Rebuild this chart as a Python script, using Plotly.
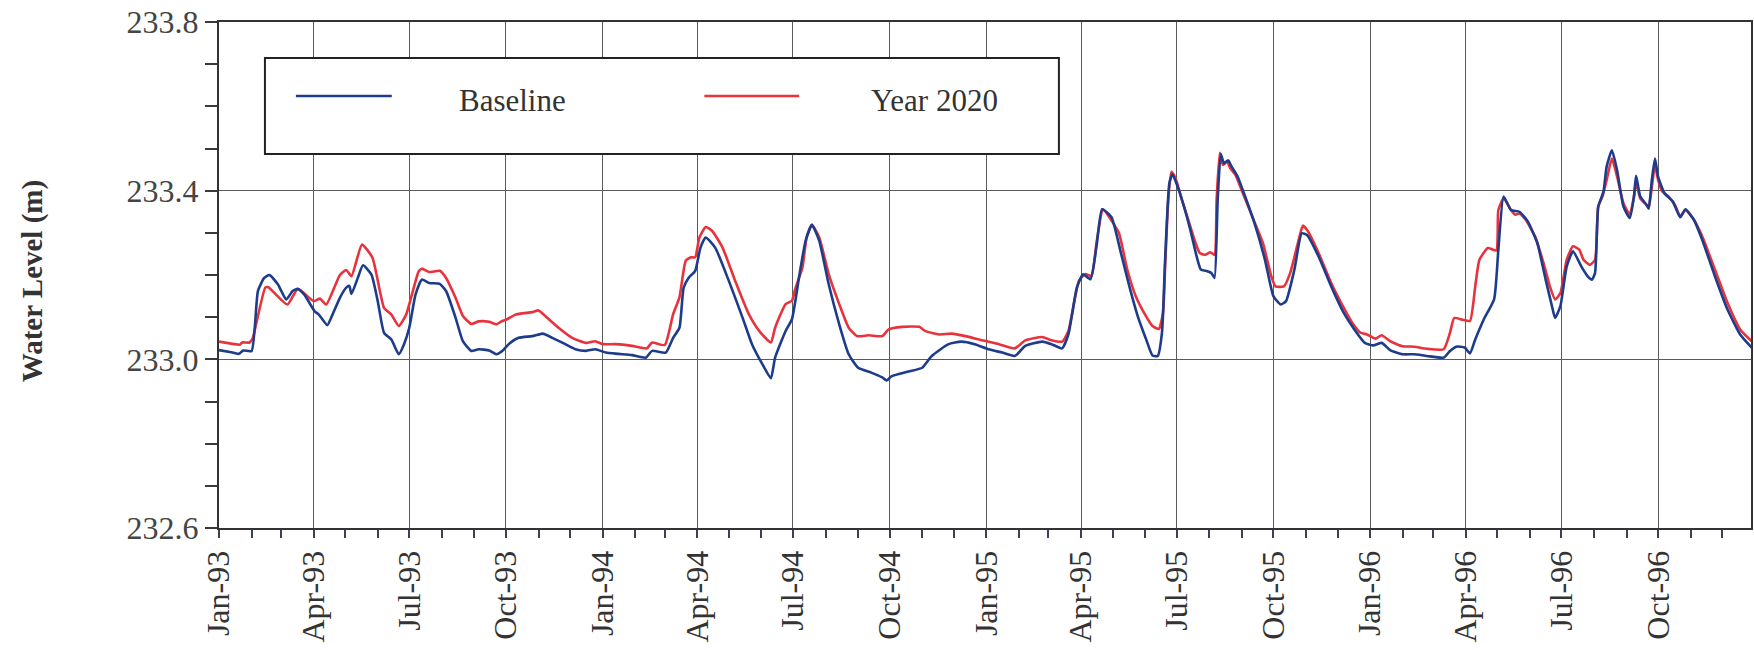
import plotly.graph_objects as go

# Daily water level series (m), sampled at the turning points of each hydrograph
baseline_dates = [
    "1993-01-01", "1993-01-14", "1993-01-20", "1993-01-24", "1993-02-01", "1993-02-07", "1993-02-13",
    "1993-02-18", "1993-02-26", "1993-03-06", "1993-03-12", "1993-03-17", "1993-03-23", "1993-04-02",
    "1993-04-06", "1993-04-14", "1993-04-19", "1993-04-26", "1993-05-02", "1993-05-05", "1993-05-07",
    "1993-05-13", "1993-05-18", "1993-05-26", "1993-06-01", "1993-06-07", "1993-06-14", "1993-06-21",
    "1993-06-26", "1993-07-01", "1993-07-07", "1993-07-13", "1993-07-20", "1993-07-30", "1993-08-05",
    "1993-08-14", "1993-08-21", "1993-08-29", "1993-09-05", "1993-09-15", "1993-09-22", "1993-09-28",
    "1993-10-04", "1993-10-13", "1993-10-26", "1993-11-05", "1993-11-14", "1993-11-24", "1993-12-06",
    "1993-12-16", "1993-12-25", "1994-01-04", "1994-01-16", "1994-01-29", "1994-02-11", "1994-02-17",
    "1994-03-02", "1994-03-09", "1994-03-15", "1994-03-19", "1994-03-24", "1994-03-30", "1994-04-04",
    "1994-04-09", "1994-04-18", "1994-05-01", "1994-05-14", "1994-05-23", "1994-06-02", "1994-06-10",
    "1994-06-14", "1994-06-24", "1994-06-30", "1994-07-07", "1994-07-13", "1994-07-19", "1994-07-26",
    "1994-08-04", "1994-08-14", "1994-08-23", "1994-09-01", "1994-09-14", "1994-09-24", "1994-09-28",
    "1994-10-03", "1994-10-19", "1994-11-01", "1994-11-10", "1994-11-26", "1994-12-08", "1994-12-21",
    "1995-01-03", "1995-01-16", "1995-01-28", "1995-02-07", "1995-02-23", "1995-03-04", "1995-03-14",
    "1995-03-20", "1995-03-28", "1995-04-03", "1995-04-10", "1995-04-16", "1995-04-21", "1995-04-30",
    "1995-05-09", "1995-05-17", "1995-05-25", "1995-06-02", "1995-06-08", "1995-06-13", "1995-06-17",
    "1995-06-20", "1995-06-24", "1995-06-27", "1995-07-02", "1995-07-08", "1995-07-14", "1995-07-20",
    "1995-07-24", "1995-07-30", "1995-08-03", "1995-08-06", "1995-08-09", "1995-08-12", "1995-08-15",
    "1995-08-19", "1995-08-22", "1995-08-28", "1995-09-03", "1995-09-13", "1995-09-23", "1995-10-01",
    "1995-10-08", "1995-10-13", "1995-10-21", "1995-10-28", "1995-11-02", "1995-11-13", "1995-11-25",
    "1995-12-07", "1995-12-17", "1995-12-27", "1996-01-04", "1996-01-12", "1996-01-20", "1996-02-01",
    "1996-02-12", "1996-02-24", "1996-03-11", "1996-03-17", "1996-03-23", "1996-03-31", "1996-04-05",
    "1996-04-10", "1996-04-18", "1996-04-28", "1996-05-02", "1996-05-07", "1996-05-14", "1996-05-22",
    "1996-05-30", "1996-06-08", "1996-06-16", "1996-06-22", "1996-06-25", "1996-06-30", "1996-07-06",
    "1996-07-12", "1996-07-20", "1996-07-26", "1996-07-30", "1996-08-02", "1996-08-05", "1996-08-10",
    "1996-08-13", "1996-08-18", "1996-08-23", "1996-08-29", "1996-09-04", "1996-09-08", "1996-09-10",
    "1996-09-14", "1996-09-20", "1996-09-22", "1996-09-25", "1996-09-28", "1996-10-01", "1996-10-07",
    "1996-10-15", "1996-10-22", "1996-10-27", "1996-11-04", "1996-11-12", "1996-11-24", "1996-12-06",
    "1996-12-18", "1996-12-29",
]
baseline_level = [
    233.022, 233.016, 233.013, 233.021, 233.020, 233.162, 233.193,
    233.200, 233.178, 233.142, 233.162, 233.167, 233.154, 233.114,
    233.106, 233.081, 233.106, 233.146, 233.170, 233.174, 233.155,
    233.193, 233.223, 233.201, 233.138, 233.063, 233.047, 233.012,
    233.036, 233.075, 233.154, 233.189, 233.181, 233.179, 233.162,
    233.099, 233.043, 233.020, 233.024, 233.021, 233.012, 233.021,
    233.037, 233.051, 233.055, 233.061, 233.051, 233.039, 233.024,
    233.020, 233.024, 233.016, 233.013, 233.010, 233.004, 233.020,
    233.016, 233.051, 233.075, 233.170, 233.194, 233.210, 233.265,
    233.289, 233.265, 233.186, 233.099, 233.036, 232.988, 232.955,
    233.004, 233.067, 233.095, 233.198, 233.281, 233.319, 233.281,
    233.178, 233.083, 233.012, 232.980, 232.968, 232.957, 232.950,
    232.960, 232.971, 232.980, 233.008, 233.036, 233.042, 233.036,
    233.024, 233.016, 233.008, 233.032, 233.042, 233.036, 233.026,
    233.059, 233.170, 233.202, 233.190, 233.273, 233.356, 233.337,
    233.252, 233.173, 233.102, 233.047, 233.009, 233.008, 233.063,
    233.236, 233.417, 233.439, 233.409, 233.362, 233.307, 233.244,
    233.213, 233.209, 233.205, 233.193, 233.378, 233.487, 233.465,
    233.472, 233.458, 233.433, 233.394, 233.323, 233.236, 233.150,
    233.130, 233.138, 233.213, 233.299, 233.295, 233.244, 233.173,
    233.110, 233.071, 233.039, 233.033, 233.039, 233.022, 233.012,
    233.012, 233.008, 233.004, 233.020, 233.030, 233.028, 233.014,
    233.047, 233.094, 233.143, 233.260, 233.386, 233.354, 233.350,
    233.327, 233.276, 233.189, 233.126, 233.098, 233.126, 233.220,
    233.256, 233.220, 233.197, 233.189, 233.205, 233.362, 233.398,
    233.457, 233.496, 233.448, 233.362, 233.335, 233.386, 233.435,
    233.386, 233.366, 233.358, 233.425, 233.476, 233.433, 233.394,
    233.374, 233.337, 233.356, 233.331, 233.283, 233.197, 233.118,
    233.059, 233.028,
]

year2020_dates = [
    "1993-01-01", "1993-01-21", "1993-01-23", "1993-01-30", "1993-02-02", "1993-02-14", "1993-02-17",
    "1993-03-07", "1993-03-17", "1993-04-01", "1993-04-07", "1993-04-13", "1993-04-26", "1993-05-02",
    "1993-05-07", "1993-05-17", "1993-05-27", "1993-06-07", "1993-06-14", "1993-06-21", "1993-06-28",
    "1993-07-10", "1993-07-13", "1993-07-20", "1993-07-30", "1993-08-05", "1993-08-14", "1993-08-21",
    "1993-08-29", "1993-09-05", "1993-09-15", "1993-09-22", "1993-09-26", "1993-10-02", "1993-10-10",
    "1993-10-26", "1993-11-01", "1993-11-09", "1993-11-20", "1993-12-03", "1993-12-16", "1993-12-25",
    "1994-01-01", "1994-01-13", "1994-01-29", "1994-02-12", "1994-02-17", "1994-03-01", "1994-03-09",
    "1994-03-15", "1994-03-21", "1994-03-26", "1994-03-30", "1994-04-03", "1994-04-09", "1994-04-15",
    "1994-04-25", "1994-05-07", "1994-05-20", "1994-05-30", "1994-06-10", "1994-06-14", "1994-06-24",
    "1994-06-30", "1994-07-03", "1994-07-10", "1994-07-14", "1994-07-19", "1994-07-26", "1994-08-04",
    "1994-08-14", "1994-08-23", "1994-08-31", "1994-09-11", "1994-09-24", "1994-09-30", "1994-10-13",
    "1994-10-29", "1994-11-04", "1994-11-17", "1994-11-29", "1994-12-12", "1994-12-28", "1995-01-13",
    "1995-01-28", "1995-02-07", "1995-02-23", "1995-03-04", "1995-03-14", "1995-03-20", "1995-03-30",
    "1995-04-05", "1995-04-11", "1995-04-16", "1995-04-22", "1995-04-30", "1995-05-07", "1995-05-15",
    "1995-05-23", "1995-05-31", "1995-06-08", "1995-06-14", "1995-06-18", "1995-06-20", "1995-06-23",
    "1995-06-26", "1995-06-30", "1995-07-06", "1995-07-12", "1995-07-18", "1995-07-23", "1995-07-28",
    "1995-08-02", "1995-08-06", "1995-08-08", "1995-08-11", "1995-08-14", "1995-08-18", "1995-08-21",
    "1995-08-26", "1995-09-01", "1995-09-11", "1995-09-21", "1995-09-29", "1995-10-03", "1995-10-11",
    "1995-10-17", "1995-10-25", "1995-10-29", "1995-11-03", "1995-11-13", "1995-11-25", "1995-12-07",
    "1995-12-15", "1995-12-23", "1995-12-29", "1996-01-06", "1996-01-12", "1996-01-20", "1996-02-01",
    "1996-02-12", "1996-02-24", "1996-03-11", "1996-03-17", "1996-03-21", "1996-03-29", "1996-04-05",
    "1996-04-10", "1996-04-14", "1996-04-22", "1996-04-30", "1996-05-02", "1996-05-07", "1996-05-14",
    "1996-05-18", "1996-05-22", "1996-05-28", "1996-06-06", "1996-06-14", "1996-06-20", "1996-06-25",
    "1996-06-30", "1996-07-06", "1996-07-12", "1996-07-18", "1996-07-22", "1996-07-28", "1996-08-02",
    "1996-08-05", "1996-08-09", "1996-08-13", "1996-08-18", "1996-08-23", "1996-08-29", "1996-09-04",
    "1996-09-08", "1996-09-10", "1996-09-14", "1996-09-20", "1996-09-22", "1996-09-25", "1996-09-28",
    "1996-10-01", "1996-10-05", "1996-10-11", "1996-10-17", "1996-10-22", "1996-10-27", "1996-11-04",
    "1996-11-12", "1996-11-24", "1996-12-06", "1996-12-18", "1996-12-29",
]
year2020_level = [
    233.042, 233.035, 233.040, 233.040, 233.050, 233.170, 233.171,
    233.130, 233.167, 233.138, 233.144, 233.130, 233.200, 233.212,
    233.197, 233.272, 233.241, 233.122, 233.106, 233.079, 233.106,
    233.209, 233.215, 233.207, 233.210, 233.193, 233.146, 233.103,
    233.084, 233.090, 233.089, 233.083, 233.089, 233.095, 233.106,
    233.112, 233.116, 233.099, 233.075, 233.051, 233.039, 233.043,
    233.036, 233.036, 233.032, 233.026, 233.040, 233.034, 233.107,
    233.147, 233.234, 233.242, 233.242, 233.289, 233.314, 233.305,
    233.265, 233.186, 233.107, 233.067, 233.040, 233.075, 233.131,
    233.139, 233.166, 233.218, 233.289, 233.319, 233.289, 233.202,
    233.131, 233.075, 233.055, 233.057, 233.055, 233.071, 233.077,
    233.077, 233.067, 233.059, 233.061, 233.055, 233.045, 233.036,
    233.026, 233.045, 233.053, 233.045, 233.042, 233.067, 233.186,
    233.202, 233.198, 233.281, 233.356, 233.329, 233.300, 233.213,
    233.150, 233.110, 233.079, 233.072, 233.110, 233.220, 233.378,
    233.445, 233.429, 233.378, 233.331, 233.283, 233.252, 233.248,
    233.254, 233.248, 233.378, 233.490, 233.461, 233.469, 233.453,
    233.437, 233.400, 233.338, 233.276, 233.197, 233.173, 233.173,
    233.205, 233.283, 233.317, 233.303, 233.252, 233.181, 233.122,
    233.087, 233.063, 233.059, 233.049, 233.057, 233.043, 233.031,
    233.030, 233.025, 233.024, 233.063, 233.098, 233.094, 233.091,
    233.173, 233.236, 233.264, 233.258, 233.354, 233.382, 233.354,
    233.343, 233.346, 233.331, 233.291, 233.228, 233.173, 233.142,
    233.157, 233.236, 233.268, 233.260, 233.236, 233.224, 233.236,
    233.362, 233.386, 233.425, 233.476, 233.433, 233.370, 233.343,
    233.386, 233.419, 233.382, 233.366, 233.358, 233.409, 233.460,
    233.425, 233.398, 233.386, 233.366, 233.339, 233.354, 233.331,
    233.291, 233.213, 233.134, 233.071, 233.043,
]

series_names = ["Baseline", "Year 2020"]
series_colors = ["#1d3c8c", "#e8333d"]

y_range = [232.6, 233.8]
x_range = ["1993-01-01", "1996-12-28 08:00"]

SERIF = "Liberation Serif, Times New Roman, serif"
INK = "#333333"

fig = go.Figure()

# Year 2020 underneath, Baseline drawn on top
fig.add_trace(go.Scatter(
    x=year2020_dates, y=year2020_level, mode="lines", name=series_names[1],
    line=dict(color=series_colors[1], width=2.6, shape="spline", smoothing=0.5),
    showlegend=False,
))
fig.add_trace(go.Scatter(
    x=baseline_dates, y=baseline_level, mode="lines", name=series_names[0],
    line=dict(color=series_colors[0], width=2.6, shape="spline", smoothing=0.5),
    showlegend=False,
))

# Boxed legend inside the plot area
W_PLOT, H_PLOT, L, B = 1534, 506, 219, 528


def px_x(p):
    return (p - L) / W_PLOT


def px_y(p):
    return (B - p) / H_PLOT


shapes = [
    dict(type="rect", xref="paper", yref="paper",
         x0=px_x(265), x1=px_x(1060), y0=px_y(154), y1=px_y(58),
         line=dict(color="#222222", width=2), fillcolor="white", layer="above"),
    dict(type="line", xref="paper", yref="paper",
         x0=px_x(296), x1=px_x(392), y0=px_y(96), y1=px_y(96),
         line=dict(color=series_colors[0], width=2.6), layer="above"),
    dict(type="line", xref="paper", yref="paper",
         x0=px_x(705), x1=px_x(800), y0=px_y(96), y1=px_y(96),
         line=dict(color=series_colors[1], width=2.6), layer="above"),
]

annotations = [
    dict(text=series_names[0], xref="paper", yref="paper", x=px_x(457), y=px_y(100),
         xanchor="left", yanchor="middle", showarrow=False,
         font=dict(family=SERIF, size=31, color=INK)),
    dict(text=series_names[1], xref="paper", yref="paper", x=px_x(870), y=px_y(100),
         xanchor="left", yanchor="middle", showarrow=False,
         font=dict(family=SERIF, size=31, color=INK)),
    dict(text="<b>Water Level (m)</b>", xref="paper", yref="paper",
         x=px_x(33), y=px_y(281), xanchor="center", yanchor="middle",
         textangle=-90, showarrow=False,
         font=dict(family=SERIF, size=29, color=INK)),
]

fig.update_layout(
    width=1754, height=650,
    margin=dict(l=L, r=1754 - L - W_PLOT, t=22, b=650 - B),
    paper_bgcolor="white", plot_bgcolor="white",
    shapes=shapes, annotations=annotations,
    showlegend=False,
)

fig.update_xaxes(
    type="date", range=x_range,
    tick0="1993-01-01", dtick="M3", tickformat="%b-%y", tickangle=-90,
    ticks="outside", ticklen=8, tickwidth=2, tickcolor="#3a4450",
    showgrid=True, gridcolor="#5a5a5a", gridwidth=1,
    showline=True, linecolor=INK, linewidth=2, mirror=True,
    tickfont=dict(family=SERIF, size=32, color=INK),
    minor=dict(dtick="M1", ticks="outside", ticklen=8, tickwidth=2,
               tickcolor="#3a4450", showgrid=False),
    zeroline=False,
)

fig.update_yaxes(
    range=y_range, tick0=232.6, dtick=0.4, tickformat=".1f",
    ticks="outside", ticklen=12, tickwidth=2, tickcolor="#3a3a3a",
    showgrid=True, gridcolor="#5a5a5a", gridwidth=1,
    showline=True, linecolor=INK, linewidth=2, mirror=True,
    tickfont=dict(family=SERIF, size=32, color="#444444"),
    minor=dict(dtick=0.1, ticks="outside", ticklen=12, tickwidth=2,
               tickcolor="#3a3a3a", showgrid=False),
    zeroline=False,
)

fig.write_html("out.html")
